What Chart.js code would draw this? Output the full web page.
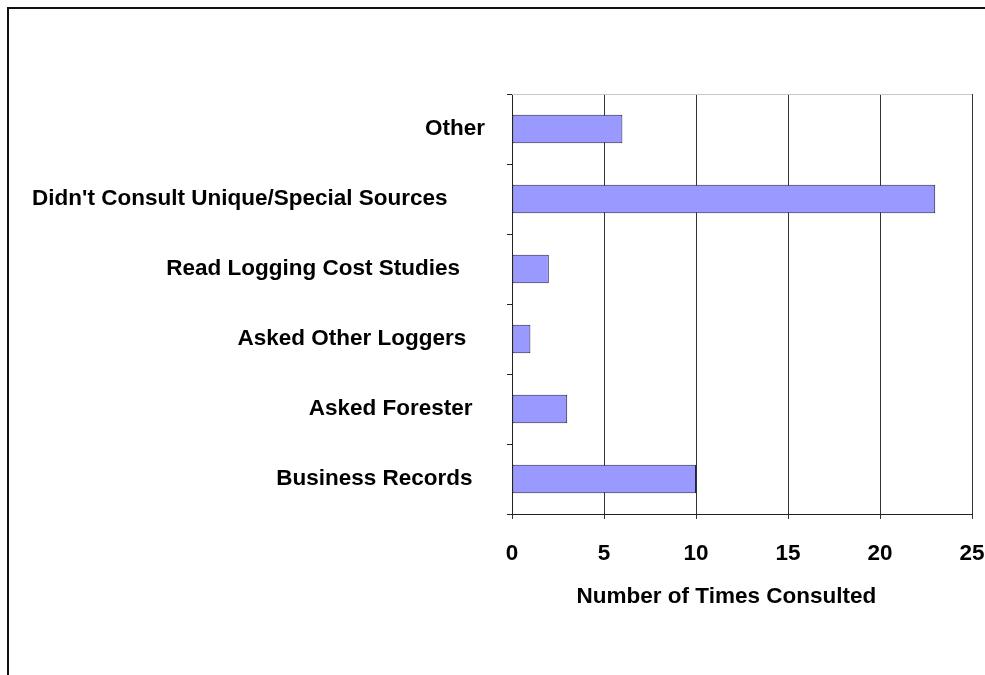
<!DOCTYPE html>
<html>
<head>
<meta charset="utf-8">
<script src="https://cdn.jsdelivr.net/npm/chart.js@4"></script>
<style>
  body { margin: 0; background: #fff; }
  #wrap { position: relative; width: 985px; height: 675px; overflow: hidden; }
  #frame { position: absolute; left: 7px; top: 7px; width: 990px; height: 680px;
           border-left: 2px solid #111; border-top: 2px solid #111; pointer-events: none; }
  canvas { position: absolute; left: 0; top: 0; }
</style>
</head>
<body>
<div id="wrap">
  <canvas id="sourcesChart" width="985" height="675"></canvas>
  <div id="frame"></div>
</div>
<script>
// categories top to bottom (trailing spaces as in the original sheet)
var categories = [
  "Other",
  "Didn't Consult Unique/Special Sources      ",
  "Read Logging Cost Studies    ",
  "Asked Other Loggers   ",
  "Asked Forester  ",
  "Business Records  "
];
var timesConsulted = [6, 23, 2, 1, 3, 10];
var xTicks = [0, 5, 10, 15, 20, 25];
var xTitle = "Number of Times Consulted     ";

var labelFont = { family: "'Liberation Sans', Arial, sans-serif", size: 22.5, weight: "bold" };

// light grey line on top of the plot area
var topBorder = {
  id: "topBorder",
  afterDatasetsDraw: function(chart) {
    var a = chart.chartArea, ctx = chart.ctx;
    ctx.save();
    ctx.strokeStyle = "#c8c8c8";
    ctx.lineWidth = 1;
    ctx.beginPath();
    ctx.moveTo(a.left, a.top + 0.5);
    ctx.lineTo(a.right, a.top + 0.5);
    ctx.stroke();
    ctx.restore();
  }
};

var ctx = document.getElementById("sourcesChart").getContext("2d");

var newBarChart = new Chart(ctx, {
  type: "bar",
  data: {
    labels: categories,
    datasets: [{
      data: timesConsulted,
      backgroundColor: "#9999FF",
      borderColor: "#22224a",
      borderWidth: 1,
      borderSkipped: false,
      categoryPercentage: 1,
      barPercentage: 0.41
    }]
  },
  options: {
    indexAxis: "y",
    responsive: false,
    animation: false,
    layout: { padding: { top: 94, right: 13, bottom: 0, left: 0 } },
    plugins: { legend: { display: false }, tooltip: { enabled: false } },
    scales: {
      y: {
        afterFit: function(scale) { scale.width = 512; },
        grid: { offset: true, drawOnChartArea: false, drawTicks: true, tickLength: 5, color: "#222" },
        border: { display: true, color: "#222", width: 1 },
        ticks: { color: "#000", font: labelFont, padding: 22, autoSkip: false }
      },
      x: {
        min: 0,
        max: 25,
        afterBuildTicks: function(scale) {
          scale.ticks = xTicks.map(function(v) { return { value: v }; });
        },
        afterFit: function(scale) {
          scale.height = 161;
          scale.paddingLeft = 0;
          scale.paddingRight = 0;
        },
        grid: { color: "#333", tickLength: 5, drawTicks: true },
        border: { display: true, color: "#222", width: 1 },
        ticks: { color: "#000", font: labelFont, padding: 21, maxRotation: 0 },
        title: {
          display: true,
          text: xTitle,
          color: "#000",
          font: labelFont,
          padding: { top: 0, bottom: 65 }
        }
      }
    }
  },
  plugins: [topBorder]
});
</script>
</body>
</html>
